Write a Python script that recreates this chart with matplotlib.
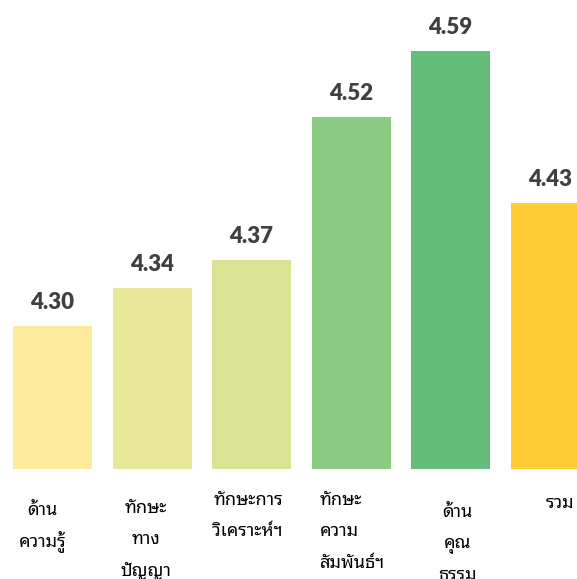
import matplotlib
matplotlib.use("Agg")
import matplotlib.pyplot as plt
import matplotlib.transforms as mtransforms
import numpy as np

# scores per area (mean, 5-point scale)
categories = [
    "ด้าน\nความรู้",
    "ทักษะ\nทาง\nปัญญา",
    "ทักษะการ\nวิเคราะห์ฯ",
    "ทักษะ\nความ\nสัมพันธ์ฯ",
    "ด้าน\nคุณ\nธรรม",
    "รวม",
]
scores = np.array([4.30, 4.34, 4.37, 4.52, 4.59, 4.43])
base = 4.15  # value axis does not start at zero

colors = ["#FEEA9B", "#E9E898", "#DAE393", "#8BCA83", "#63BE7B", "#FFCC33"]
text_color = "#404040"

# hand-tuned label placement (pixels relative to bar centre / baseline)
label_dx = [-10, -6, -3, -31, 7, 10]
label_dy = [46, 44, 36, 36, 48, 39]
label_ha = ["center", "center", "center", "left", "center", "center"]
line_step = 31.5

fig = plt.figure(figsize=(5.77, 5.79), dpi=100)
ax = fig.add_axes([0, 0, 1, 1])
ax.set_xlim(-0.528, 5.271)
ax.set_ylim(4.0343, 4.6432)
ax.axis("off")

x = np.arange(len(scores))
ax.bar(x, scores - base, bottom=base, width=0.794, color=colors)

for i, v in enumerate(scores):
    tr = mtransforms.offset_copy(ax.transData, fig=fig, x=0, y=17, units="dots")
    ax.text(i, v, f"{v:.2f}", transform=tr, ha="center", va="baseline",
            fontsize=16, fontweight="heavy", family="Lato", color=text_color)

for i, lab in enumerate(categories):
    for k, line in enumerate(lab.split("\n")):
        tr = mtransforms.offset_copy(ax.transData, fig=fig, x=label_dx[i],
                                     y=-(label_dy[i] + k * line_step), units="dots")
        ax.text(i, base, line, transform=tr, ha=label_ha[i], va="baseline",
                fontsize=13, family=["Noto Sans Thai Looped", "DejaVu Sans"],
                color="black")

fig.savefig("out.png", dpi=100)
